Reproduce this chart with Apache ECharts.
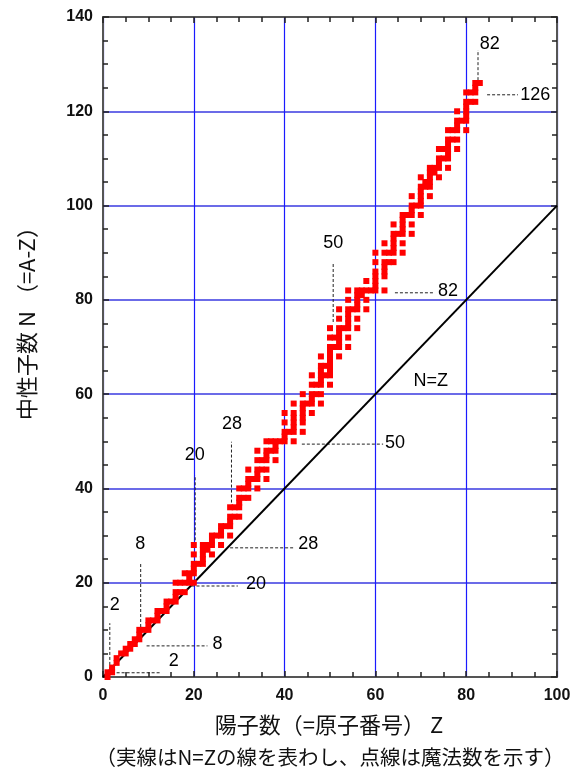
<!DOCTYPE html>
<html>
<head>
<meta charset="utf-8">
<script src="https://cdn.jsdelivr.net/npm/echarts@6/dist/echarts.min.js"></script>
<style>
html,body{margin:0;padding:0;background:#fff;}
#chart{width:574px;height:773px;}
</style>
</head>
<body>
<div id="chart"></div>
<script>
// Proton numbers Z of stable elements and their stable neutron numbers N
const protonNumbers = [1,2,3,4,5,6,7,8,9,10,11,12,13,14,15,16,17,18,19,20,
  21,22,23,24,25,26,27,28,29,30,31,32,33,34,35,36,37,38,39,40,41,42,44,45,46,47,48,49,50,
  51,52,53,54,55,56,57,58,59,60,62,63,64,65,66,67,68,69,70,71,72,73,74,75,76,77,78,79,80,81,82,83];
const stableNeutrons = [
  [0,1],[1,2],[3,4],[5],[5,6],[6,7],[7,8],[8,9,10],[10],[10,11,12],
  [12],[12,13,14],[14],[14,15,16],[16],[16,17,18,20],[18,20],[18,20,22],[20,21,22],[20,22,23,24,26,28],
  [24],[24,25,26,27,28],[27,28],[26,28,29,30],[30],[28,30,31,32],[32],[30,32,33,34,36],[34,36],[34,36,37,38,40],
  [38,40],[38,40,41,42,44],[42],[40,42,43,44,46,48],[44,46],[42,44,46,47,48,50],[48,50],[46,48,49,50],[50],[50,51,52,54,56],
  [52],[50,52,53,54,55,56,58],[52,54,55,56,57,58,60],[58],[56,58,59,60,62,64],[60,62],[58,60,62,63,64,65,66,68],[64,66],
  [62,64,65,66,67,68,69,70,72,74],
  [70,72],[68,70,71,72,73,74,76,78],[74],[70,72,74,75,76,77,78,80,82],[78],[74,76,78,79,80,81,82],[81,82],[78,80,82,84],[82],
  [82,83,84,85,86,88,90],[82,85,86,87,88,90,92],[88,90],[88,90,91,92,93,94,96],[94],[90,92,94,95,96,97,98],[98],
  [94,96,98,99,100,102],[100],[98,100,101,102,103,104,106],[104,105],[102,104,105,106,107,108],[107,108],
  [106,108,109,110,112],[110,112],[108,110,111,112,113,114,116],[114,116],[112,114,116,117,118,120],[118],
  [116,118,119,120,121,122,124],[122,124],[122,124,125,126],[126]
];

// Magic number annotations (data units)
// horizontal dashed (neutron magic numbers): [label, N level, Z from, Z to, label Z, label N]
const neutronMagic = [
  ['2',   0.9,  3.0, 12.6, 15.6,  3.4],
  ['8',   6.6,  9.6, 23.0, 25.2,  7.0],
  ['20', 19.3, 19.5, 29.7, 33.7, 19.8],
  ['28', 27.4, 28.0, 41.9, 45.2, 28.3],
  ['50', 49.4, 43.8, 61.7, 64.3, 49.6],
  ['82', 81.5, 64.3, 72.7, 76.0, 81.8],
  ['126',123.5,84.6, 91.4, 95.2, 123.5]
];
// vertical dashed (proton magic numbers): [label, Z level, N from, N to, label Z, label N]
const protonMagic = [
  ['2',   1.5,  1.5, 11.4,  2.6, 15.3],
  ['8',   8.3, 10.6, 24.0,  8.2, 28.2],
  ['20', 20.3, 29.0, 42.8, 20.2, 47.0],
  ['28', 28.3, 37.0, 49.9, 28.4, 53.6],
  ['50', 50.7, 75.3, 88.0, 50.7, 92.0],
  ['82', 82.6,126.6,133.0, 85.2,134.2]
];
const diagonalLine = [[0,0],[100,100]];
const diagonalLabel = ['N=Z', 72.2, 62.8];

const points = [];
protonNumbers.forEach((z,i)=>stableNeutrons[i].forEach(n=>points.push([z,n])));

const series = [];
series.push({type:'line', data:diagonalLine, symbol:'none', silent:true,
  lineStyle:{color:'#000', width:2}, z:3});
neutronMagic.forEach(m=>{
  series.push({type:'line', data:[[m[2],m[1]],[m[3],m[1]]], symbol:'none', silent:true,
    lineStyle:{color:'#222', width:1, type:[3,2]}, z:2});
});
protonMagic.forEach(m=>{
  series.push({type:'line', data:[[m[1],m[2]],[m[1],m[3]]], symbol:'none', silent:true,
    lineStyle:{color:'#222', width:1, type:[3,2]}, z:2});
});
series.push({type:'scatter', data:points, symbol:'rect', symbolSize:6,
  itemStyle:{color:'#ff0000', opacity:1}, z:4, silent:true});
const labelPts = neutronMagic.map(m=>({value:[m[4],m[5]], name:m[0]}))
  .concat(protonMagic.map(m=>({value:[m[4],m[5]], name:m[0]})))
  .concat([{value:[diagonalLabel[1],diagonalLabel[2]], name:diagonalLabel[0]}]);
series.push({type:'scatter', data:labelPts, symbolSize:0, silent:true, z:5,
  itemStyle:{opacity:1},
  label:{show:true, position:'inside', formatter:p=>p.name, color:'#000',
    fontSize:18, fontFamily:'Liberation Sans, Arial, sans-serif'}});

const axisLineStyle = {color:'#555', width:2};
const chart = echarts.init(document.getElementById('chart'));
chart.setOption({
  animation:false,
  backgroundColor:'#fff',
  grid:{left:103, right:17, top:17, bottom:96},
  xAxis:[{
    type:'value', min:0, max:100, interval:20,
    axisLine:{show:true, onZero:false, lineStyle:axisLineStyle},
    axisTick:{show:true, inside:true, length:6, lineStyle:{color:'#222', width:1.5}},
    minorTick:{show:true, splitNumber:4, length:5, lineStyle:{color:'#222', width:1.5}},
    axisLabel:{fontSize:16, fontWeight:'bold', color:'#111', margin:11,
      fontFamily:'Liberation Sans, Arial, sans-serif'},
    splitLine:{show:true, lineStyle:{color:'#1a1aff', width:1.2}}
  },{
    type:'value', min:0, max:100, interval:20, position:'top',
    axisLine:{show:true, onZero:false, lineStyle:axisLineStyle},
    axisTick:{show:true, inside:true, length:6, lineStyle:{color:'#222', width:1.5}},
    minorTick:{show:true, splitNumber:4, length:5, lineStyle:{color:'#222', width:1.5}},
    axisLabel:{show:false}, splitLine:{show:false}
  }],
  yAxis:[{
    type:'value', min:0, max:140, interval:20,
    axisLine:{show:true, onZero:false, lineStyle:axisLineStyle},
    axisTick:{show:true, inside:true, length:6, lineStyle:{color:'#222', width:1.5}},
    minorTick:{show:true, splitNumber:4, length:5, lineStyle:{color:'#222', width:1.5}},
    axisLabel:{fontSize:16, fontWeight:'bold', color:'#111', margin:10,
      fontFamily:'Liberation Sans, Arial, sans-serif'},
    splitLine:{show:true, lineStyle:{color:'#3a3ae0', width:1.5}}
  },{
    type:'value', min:0, max:140, interval:20, position:'right',
    axisLine:{show:true, onZero:false, lineStyle:axisLineStyle},
    axisTick:{show:true, inside:true, length:6, lineStyle:{color:'#222', width:1.5}},
    minorTick:{show:true, splitNumber:4, length:5, lineStyle:{color:'#222', width:1.5}},
    axisLabel:{show:false}, splitLine:{show:false}
  }],
  graphic:[
    {type:'text', x:27, y:318, rotation:Math.PI/2,
      style:{text:'中性子数 N （=A-Z）', fontSize:22, fill:'#111', align:'center', verticalAlign:'middle',
        fontFamily:'Noto Sans CJK JP, sans-serif'}},
    {type:'text', x:329, y:725,
      style:{text:'陽子数（=原子番号） Z', fontSize:22, fill:'#111', align:'center', verticalAlign:'middle',
        fontFamily:'Noto Sans CJK JP, sans-serif'}},
    {type:'text', x:330, y:757,
      style:{text:'（実線はN=Zの線を表わし、点線は魔法数を示す）', fontSize:20.5, fill:'#111', align:'center', verticalAlign:'middle',
        fontFamily:'Noto Sans CJK JP, sans-serif'}}
  ],
  series:series
});
</script>
</body>
</html>
